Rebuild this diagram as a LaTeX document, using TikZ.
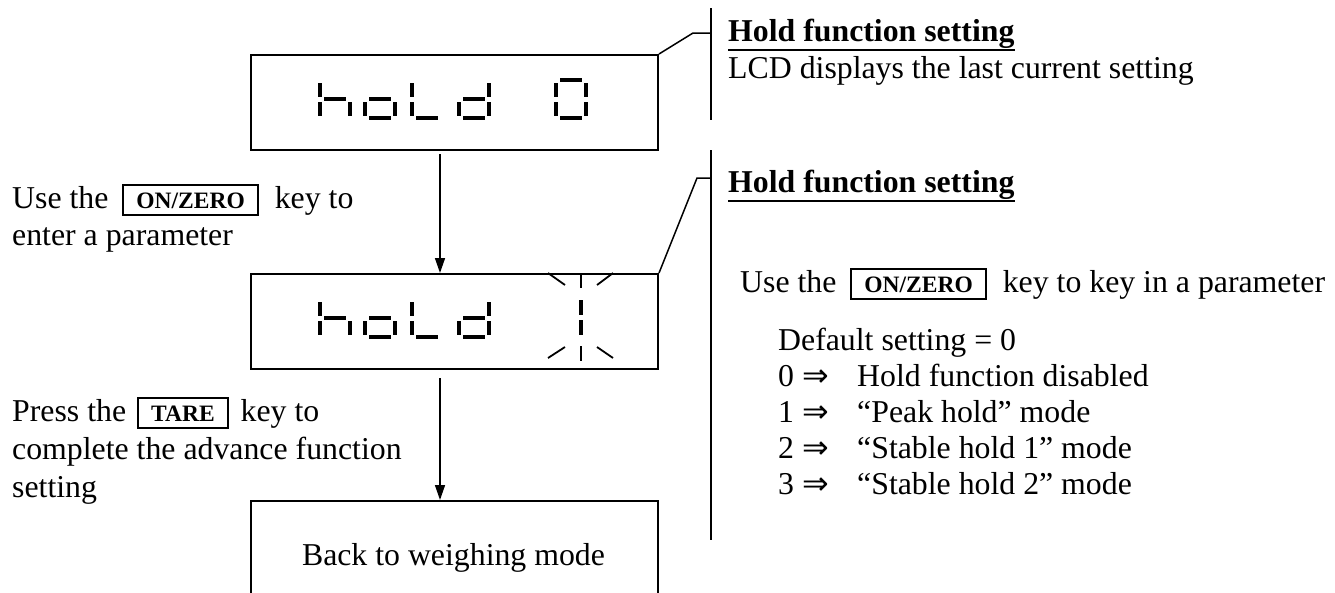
\documentclass[tikz,border=0pt]{standalone}
\usepackage{fontspec}
\setmainfont{Liberation Serif}
\newfontfamily\arrowfont{DejaVu Sans}
\usetikzlibrary{arrows.meta}
\newcommand\mainsize{\fontsize{31.8}{37}\selectfont}
\newcommand\keysize{\fontsize{23.5}{26}\selectfont}
\newcommand\keyb[1]{{\setlength{\fboxsep}{0pt}\setlength{\fboxrule}{2pt}\fbox{\rule[-6pt]{0pt}{28pt}\hspace{12pt}{\keysize\bfseries #1}\hspace{12pt}}}}
\newcommand\impl{{\arrowfont ⇒}}
% seven-segment pieces, cell origin (#1,#2), width 30, height 38
\newcommand\lcdA[2]{\draw[lcdseg] ({#1+4},{#2}) -- ({#1+26},{#2});}
\newcommand\lcdB[2]{\draw[lcdseg] ({#1+30},{#2+3}) -- ({#1+30},{#2+17});}
\newcommand\lcdC[2]{\draw[lcdseg] ({#1+30},{#2+22}) -- ({#1+30},{#2+36});}
\newcommand\lcdD[2]{\draw[lcdseg] ({#1+4},{#2+38}) -- ({#1+26},{#2+38});}
\newcommand\lcdE[2]{\draw[lcdseg] ({#1},{#2+22}) -- ({#1},{#2+36});}
\newcommand\lcdF[2]{\draw[lcdseg] ({#1},{#2+3}) -- ({#1},{#2+17});}
\newcommand\lcdG[2]{\draw[lcdseg] ({#1+4},{#2+19}) -- ({#1+26},{#2+19});}
\newcommand\lcdhold[1]{%
  \lcdF{320}{#1}\lcdE{320}{#1}\lcdG{320}{#1}\lcdC{320}{#1}%
  \lcdG{365}{#1}\lcdC{365}{#1}\lcdD{365}{#1}\lcdE{365}{#1}%
  \lcdF{412}{#1}\lcdE{412}{#1}\lcdD{412}{#1}%
  \lcdB{459}{#1}\lcdC{459}{#1}\lcdD{459}{#1}\lcdE{459}{#1}\lcdG{459}{#1}}
\begin{document}
\begin{tikzpicture}[x=1pt,y=-1pt,
  txt/.style={anchor=base west,inner sep=0pt,font=\mainsize},
  head/.style={anchor=base west,inner sep=0pt,font=\mainsize\bfseries},
  lcdbox/.style={draw,line width=2pt,minimum width=407pt,minimum height=95pt,inner sep=0pt,anchor=north west},
  lcdseg/.style={line width=4.5pt},
  blink/.style={line width=1.8pt},
  arr/.style={-{Stealth[length=15pt,width=10pt,inset=0pt]},line width=1.5pt},
  lead/.style={line width=1.5pt},
  uline/.style={line width=2.8pt}]
\useasboundingbox (0,0) rectangle (1335,592);
\clip (0,0) rectangle (1335,592);

% boxes
\node[lcdbox] (b1) at (250,54) {};
\node[lcdbox] (b2) at (250,273) {};
\node[lcdbox,minimum height=120pt] (b3) at (250,500) {};
\node[anchor=base,inner sep=0pt,font=\mainsize] (b3t) at (453.5,565) {Back to weighing mode};

% LCD contents
\lcdhold{80}
\lcdA{556}{80}\lcdB{556}{80}\lcdC{556}{80}\lcdD{556}{80}\lcdE{556}{80}\lcdF{556}{80}
\lcdhold{299}
\draw[lcdseg] (581,300) -- (581,315);
\draw[lcdseg] (581,320) -- (581,335);
% blinking marks
\draw[blink] (581,273) -- (581,288);
\draw[blink] (581,346) -- (581,361);
\draw[blink] (548,273) -- (565,285);
\draw[blink] (613,273) -- (597,285);
\draw[blink] (548,358) -- (565,347);
\draw[blink] (613,358) -- (597,347);

% arrows
\draw[arr] ([xshift=190pt,yshift=-3pt]b1.south west) -- ([xshift=190pt]b2.north west);
\draw[arr] ([xshift=190pt,yshift=-8pt]b2.south west) -- ([xshift=190pt]b3.north west);

% left texts
\node[txt] (l1) at (12,208) {Use the\hspace{14pt}\keyb{ON/ZERO}\hspace{16pt}key to};
\node[txt] (l2) at (12,245) {enter a parameter};
\node[txt] (l3) at (12,421) {Press the\hspace{11pt}\keyb{TARE}\hspace{12pt}key to};
\node[txt] (l4) at (12,459) {complete the advance function};
\node[txt] (l5) at (12,497) {setting};

% callout 1
\coordinate (k1) at (693,33);
\coordinate (k1e) at (711,33);
\coordinate (v1a) at (711,8);
\coordinate (v1b) at (711,120);
\draw[lead] (b1.north east) -- (k1) -- (k1e);
\draw[lead] (v1a) -- (v1b);
\node[head] (h1) at (728,41) {Hold function setting};
\draw[uline] ([yshift=-9pt]h1.base west) -- ([yshift=-9pt]h1.base east);
\node[txt] (r1) at (728,78) {LCD displays the last current setting};

% callout 2
\coordinate (k2) at (697,178);
\coordinate (k2e) at (711,178);
\coordinate (v2a) at (711,150);
\coordinate (v2b) at (711,540);
\draw[lead] (b2.north east) -- (k2) -- (k2e);
\draw[lead] (v2a) -- (v2b);
\node[head] (h2) at (728,192) {Hold function setting};
\draw[uline] ([yshift=-9pt]h2.base west) -- ([yshift=-9pt]h2.base east);
\node[txt] (r2) at (740,292) {Use the\hspace{14pt}\keyb{ON/ZERO}\hspace{16pt}key to key in a parameter};
\node[txt] (r3) at (778,350) {Default setting = 0};
\node[txt] (n0) at (778,386) {0 \impl};
\node[txt] (t0) at (857,386) {Hold function disabled};
\node[txt] (n1) at (778,422) {1 \impl};
\node[txt] (t1) at (857,422) {“Peak hold” mode};
\node[txt] (n2) at (778,458) {2 \impl};
\node[txt] (t2) at (857,458) {“Stable hold 1” mode};
\node[txt] (n3) at (778,494) {3 \impl};
\node[txt] (t3) at (857,494) {“Stable hold 2” mode};
\end{tikzpicture}
\end{document}
